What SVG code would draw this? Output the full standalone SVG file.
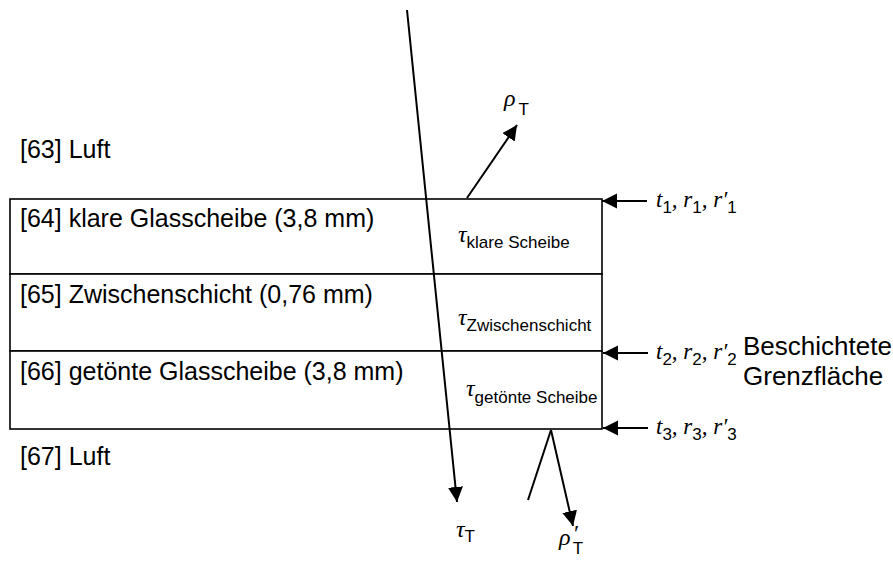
<svg xmlns="http://www.w3.org/2000/svg" width="893" height="563" viewBox="0 0 893 563">
<style>
.lbl{font-family:"Liberation Sans",Arial,sans-serif;font-size:25px;fill:#000}
.gr{font-family:"Liberation Serif","Times New Roman",serif;font-style:italic;font-size:24px;fill:#000}
.sub{font-family:"Liberation Sans",Arial,sans-serif;font-style:normal;font-size:17px}
.box{fill:#fff;stroke:#000;stroke-width:1.6}
.ray{stroke:#000;stroke-width:2;fill:none}
</style>
<defs>
<marker id="ah" markerUnits="userSpaceOnUse" markerWidth="16" markerHeight="16" refX="15" refY="7.5" orient="auto">
<path d="M0,0 L15,7.5 L0,15 z" fill="#000"/>
</marker>
</defs>

<g id="layer63"><text class="lbl" x="20" y="158">[63] Luft</text></g>

<g id="layer64">
<rect class="box" x="10" y="199" width="592" height="75"/>
<text class="lbl" x="20" y="227">[64] klare Glasscheibe (3,8 mm)</text>
<text class="gr" x="458" y="242">τ<tspan class="sub" dy="6">klare Scheibe</tspan></text>
</g>

<g id="layer65">
<rect class="box" x="10" y="274" width="592" height="77"/>
<text class="lbl" x="20" y="303">[65] Zwischenschicht (0,76 mm)</text>
<text class="gr" x="458" y="325">τ<tspan class="sub" dy="6">Zwischenschicht</tspan></text>
</g>

<g id="layer66">
<rect class="box" x="10" y="351" width="592" height="78"/>
<text class="lbl" x="20" y="380">[66] getönte Glasscheibe (3,8 mm)</text>
<text class="gr" x="466" y="396">τ<tspan class="sub" dy="7">getönte Scheibe</tspan></text>
</g>

<g id="layer67"><text class="lbl" x="20" y="465">[67] Luft</text></g>

<g id="interface1">
<text class="gr" x="656" y="207" style="font-size:23px">t<tspan class="sub" dy="6">1</tspan><tspan dy="-6">, r</tspan><tspan class="sub" dy="6">1</tspan><tspan dy="-6">, r′</tspan><tspan class="sub" dy="6">1</tspan></text>
</g>
<g id="interface2">
<text class="gr" x="656" y="359" style="font-size:23px">t<tspan class="sub" dy="6">2</tspan><tspan dy="-6">, r</tspan><tspan class="sub" dy="6">2</tspan><tspan dy="-6">, r′</tspan><tspan class="sub" dy="6">2</tspan></text>
<text class="lbl" x="743" y="355" style="font-size:26px">Beschichtete</text>
<text class="lbl" x="743" y="385" style="font-size:26px">Grenzfläche</text>
</g>
<g id="interface3">
<text class="gr" x="656" y="434" style="font-size:23px">t<tspan class="sub" dy="6">3</tspan><tspan dy="-6">, r</tspan><tspan class="sub" dy="6">3</tspan><tspan dy="-6">, r′</tspan><tspan class="sub" dy="6">3</tspan></text>
</g>

<g id="rho-T"><text class="gr" x="504" y="106">ρ<tspan class="sub" dx="3" dy="9">T</tspan></text></g>
<g id="tau-T"><text class="gr" x="456" y="537">τ<tspan class="sub" dy="5">T</tspan></text></g>
<g id="rho-T-prime">
<text class="gr" x="559" y="545">ρ<tspan dx="2" dy="-4">′</tspan><tspan class="sub" dx="-5" dy="13">T</tspan></text>
</g>

<g id="connectors">
<line class="ray" x1="407" y1="10" x2="457" y2="502" marker-end="url(#ah)"/>
<line class="ray" x1="467" y1="198" x2="517" y2="125" marker-end="url(#ah)"/>
<line class="ray" x1="551" y1="430" x2="528" y2="500"/>
<line class="ray" x1="551" y1="430" x2="573" y2="526" marker-end="url(#ah)"/>
<line class="ray" x1="647" y1="201" x2="602" y2="201" marker-end="url(#ah)"/>
<line class="ray" x1="648" y1="353" x2="603" y2="353" marker-end="url(#ah)"/>
<line class="ray" x1="648" y1="428" x2="603" y2="428" marker-end="url(#ah)"/>
</g>
</svg>
